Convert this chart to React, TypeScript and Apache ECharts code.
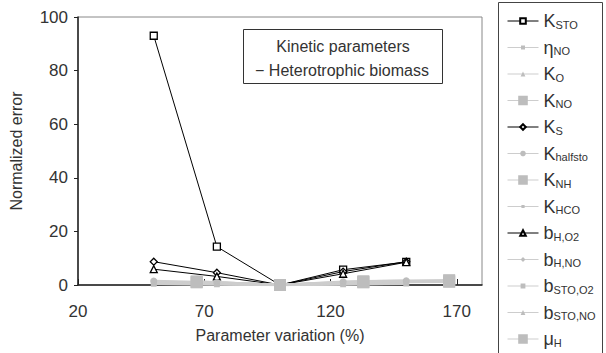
import React, { useEffect, useRef } from "react";
import * as echarts from "echarts";

// ---- data ----
const xTickLabels = [20, 70, 120, 170];
const seriesNames = [
  "K_STO", "η_NO", "K_O", "K_NO", "K_S", "K_halfsto", "K_NH",
  "K_HCO", "b_H,O2", "b_H,NO", "b_STO,O2", "b_STO,NO", "μ_H",
];
const KSTO = [[50, 93], [75, 14.3], [100, 0], [125, 5.7], [150, 8.6]];
const etaNO = [[50, 1.1], [75, 0.8], [100, 0], [125, 0.9], [150, 1.2]];
const KO = [[50, 0.7], [75, 0.5], [100, 0], [125, 0.5], [150, 0.8]];
const KNO = [[67, 1.2], [100, 0], [133, 1.1], [167, 1.4]];
const KS = [[50, 8.7], [75, 4.6], [100, 0], [125, 5.0], [150, 8.7]];
const Khalfsto = [[50, 1.5], [75, 0.9], [100, 0], [125, 1.2], [150, 1.6]];
const KNH = [[67, 1.0], [100, 0], [133, 1.0], [167, 1.2]];
const KHCO = [[50, 0.5], [75, 0.3], [100, 0], [125, 0.3], [150, 0.5]];
const bHO2 = [[50, 5.9], [75, 3.2], [100, 0], [125, 4.2], [150, 8.5]];
const bHNO = [[50, 1.2], [75, 0.7], [100, 0], [125, 0.8], [150, 1.3]];
const bSTOO2 = [[50, 0.8], [75, 0.6], [100, 0], [125, 0.6], [150, 0.9]];
const bSTONO = [[50, 0.5], [75, 0.3], [100, 0], [125, 0.3], [150, 0.6]];
const muH = [[67, 1.3], [100, 0], [133, 1.4], [167, 1.8]];

const seriesData = [KSTO, etaNO, KO, KNO, KS, Khalfsto, KNH, KHCO, bHO2, bHNO, bSTOO2, bSTONO, muH];

// ---- styles ----
const FONT = "Liberation Sans, Arial, sans-serif";
const TXT = "#333";
const BLACK = "#000";
const GRAY_M = "#bdbdbd";
const GRAY_L = "#cdcdcd";
const styles = [
  { symbol: "rect", size: 7, dark: true },
  { symbol: "rect", size: 5, dark: false },
  { symbol: "triangle", size: 6, dark: false },
  { symbol: "rect", size: 12, dark: false },
  { symbol: "diamond", size: 7, dark: true },
  { symbol: "circle", size: 7, dark: false },
  { symbol: "rect", size: 12, dark: false },
  { symbol: "rect", size: 4, dark: false },
  { symbol: "triangle", size: 7, dark: true },
  { symbol: "diamond", size: 6, dark: false },
  { symbol: "rect", size: 6, dark: false },
  { symbol: "triangle", size: 6, dark: false },
  { symbol: "rect", size: 12, dark: false },
];

export default function App() {
  const ref = useRef<HTMLDivElement>(null);
  useEffect(() => {
    document.body.style.margin = "0";
    if (!ref.current) return;
    const chart = echarts.init(ref.current, null, { renderer: "svg" });
    const series = seriesNames.map((name, i) => {
      const st = styles[i];
      return {
        name,
        type: "line",
        data: seriesData[i],
        symbol: st.symbol,
        symbolSize: st.size,
        showSymbol: true,
        z: st.dark ? 2 : 3,
        lineStyle: { color: st.dark ? BLACK : GRAY_L, width: st.dark ? 1 : 2.5 },
        itemStyle: st.dark
          ? { color: "#fff", borderColor: BLACK, borderWidth: 1.3 }
          : { color: GRAY_M, borderWidth: 0 },
        emphasis: { disabled: true },
      };
    });
    const legends = seriesNames.map((name, i) => ({
      data: [name],
      left: 507,
      top: 12 + i * 26.5,
      orient: "vertical",
      itemWidth: 31,
      itemHeight: styles[i].size,
      padding: 0,
      selectedMode: false,
      lineStyle: { width: 1 },
      formatter: (n: string) => {
        const [a, b] = n.split("_");
        return `{m|${a}}{s|${b}}`;
      },
      textStyle: {
        rich: {
          m: { fontSize: 18, lineHeight: 20, color: TXT, fontFamily: FONT },
          s: { fontSize: 11, lineHeight: 13, color: TXT, fontFamily: FONT, padding: [7, 0, 0, 0] },
        },
      },
    }));
    chart.setOption({
      animation: false,
      backgroundColor: "#fff",
      grid: { left: 72, right: 124, top: 17, bottom: 68, show: true, borderColor: "#888", borderWidth: 1 },
      xAxis: {
        type: "value",
        min: 20,
        max: 180,
        name: "Parameter variation (%)",
        nameLocation: "middle",
        nameGap: 42,
        nameTextStyle: { fontSize: 16, color: TXT, fontFamily: FONT },
        axisLine: { show: true, lineStyle: { color: "#222", width: 1.5 } },
        axisTick: { show: true, inside: true, length: 6, lineStyle: { color: "#222" }, customValues: xTickLabels },
        axisLabel: { fontSize: 17, color: TXT, fontFamily: FONT, margin: 18, customValues: xTickLabels },
        splitLine: { show: false },
      },
      yAxis: {
        type: "value",
        min: 0,
        max: 100,
        interval: 20,
        name: "Normalized error",
        nameLocation: "middle",
        nameGap: 54,
        nameTextStyle: { fontSize: 16, color: TXT, fontFamily: FONT },
        axisLine: { show: true, lineStyle: { color: "#222", width: 1.5 } },
        axisTick: { show: true, inside: false, length: 4, lineStyle: { color: "#222" } },
        axisLabel: { fontSize: 17, color: TXT, fontFamily: FONT, margin: 10 },
        splitLine: { show: false },
      },
      legend: legends,
      graphic: [
        {
          type: "rect",
          shape: { x: 243.5, y: 29.5, width: 199, height: 54 },
          style: { fill: "#fff", stroke: "#333", lineWidth: 1 },
          z: 10,
        },
        {
          type: "text",
          x: 343,
          y: 46,
          style: { text: "Kinetic parameters", fontSize: 16, fill: TXT, fontFamily: FONT, align: "center", verticalAlign: "middle" },
          z: 11,
        },
        {
          type: "text",
          x: 342,
          y: 70,
          style: { text: "− Heterotrophic biomass", fontSize: 16, fill: TXT, fontFamily: FONT, align: "center", verticalAlign: "middle" },
          z: 11,
        },
        {
          type: "rect",
          shape: { x: 498.5, y: 2.5, width: 104, height: 400 },
          style: { fill: "none", stroke: "#444", lineWidth: 1 },
          z: 10,
        },
      ],
      series,
    });
    return () => chart.dispose();
  }, []);
  return <div ref={ref} style={{ width: 606, height: 353 }} />;
}
